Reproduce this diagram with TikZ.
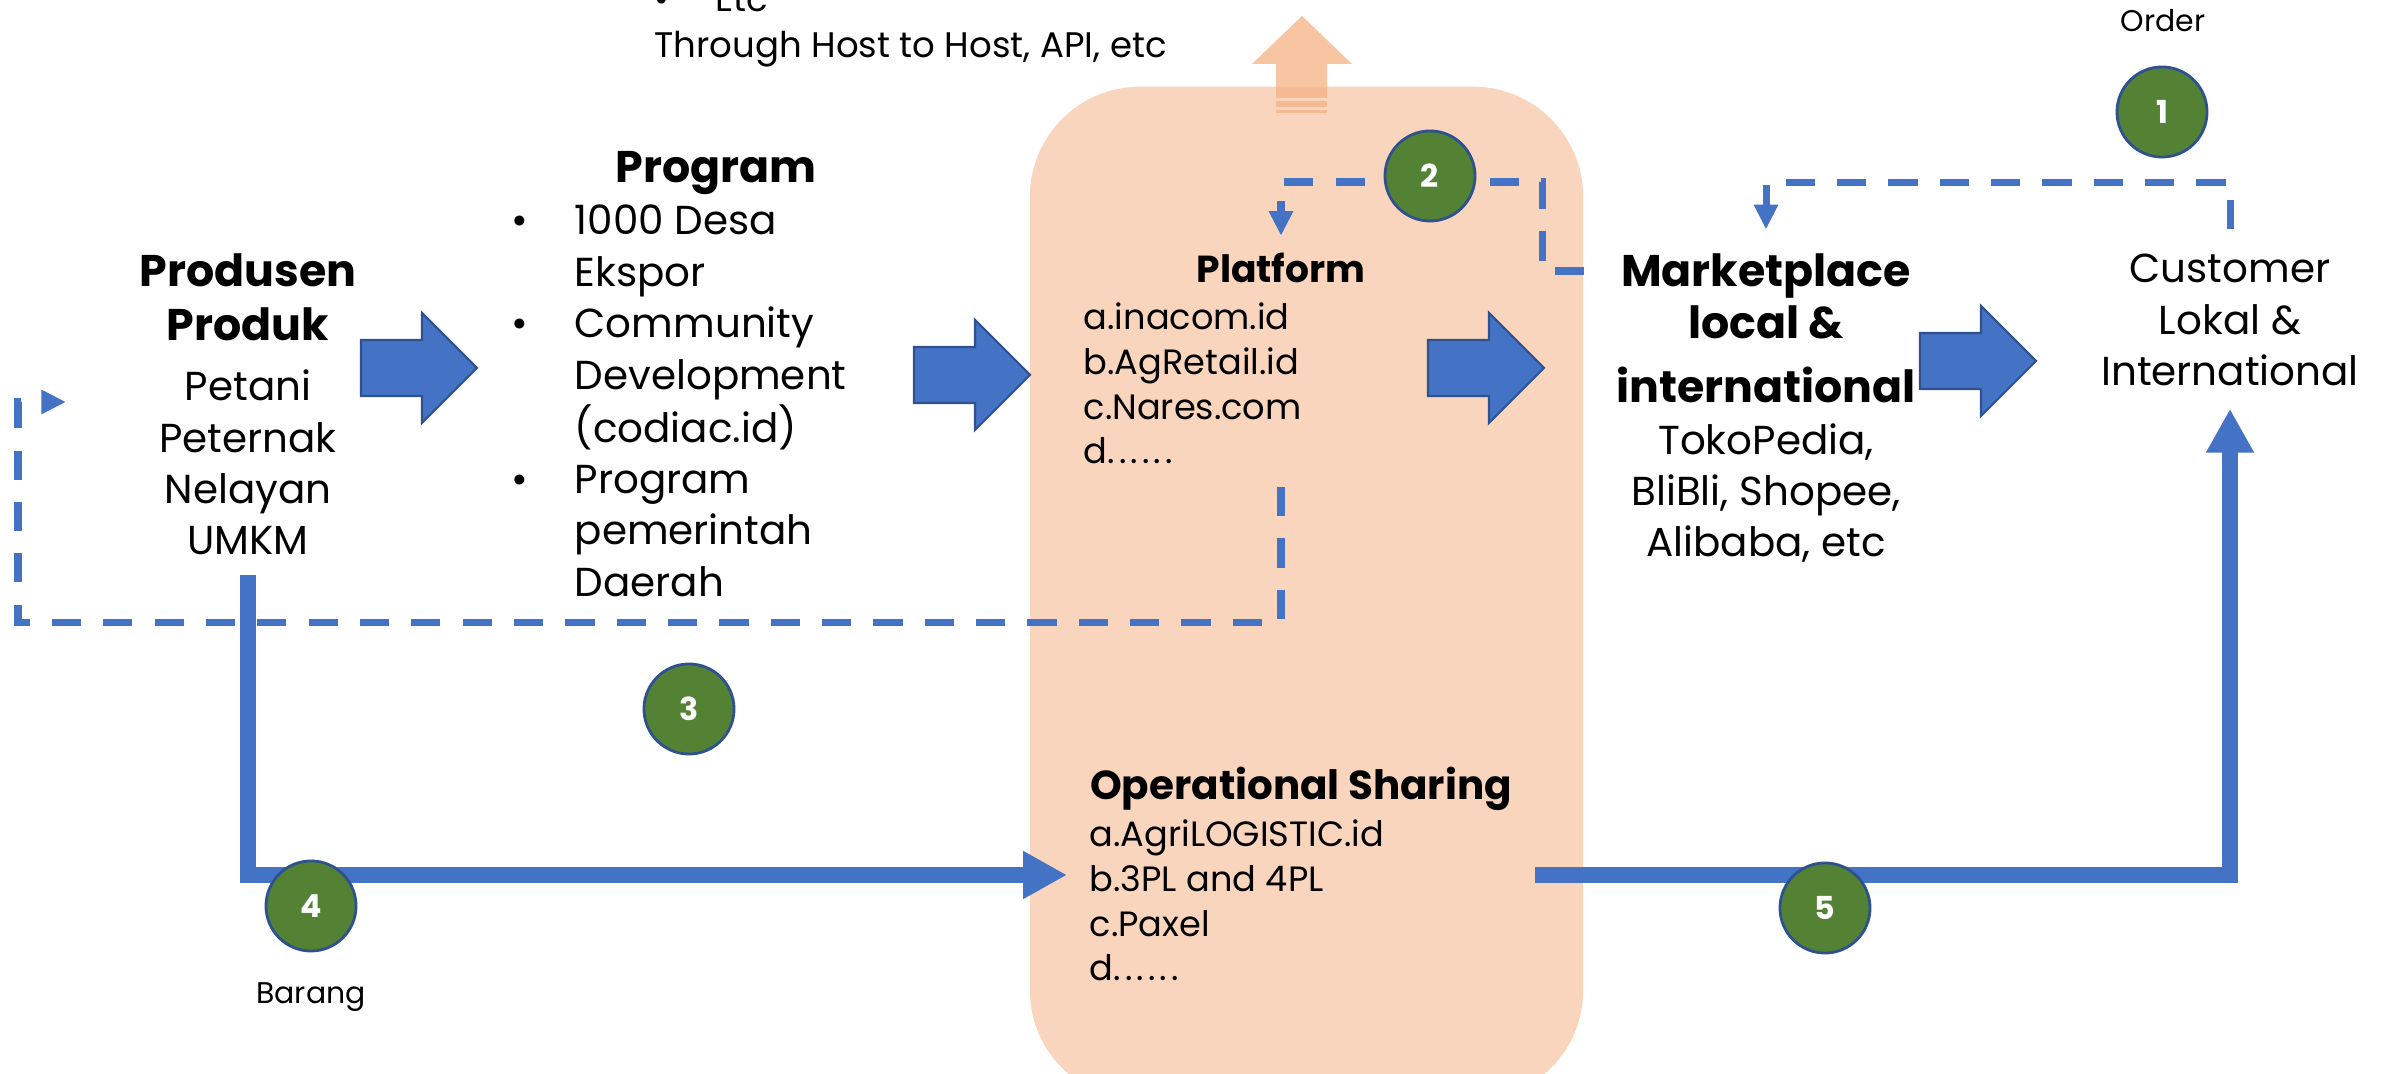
\documentclass[tikz,border=0pt]{standalone}
\usepackage{fontspec}
\setmainfont{Poppins}
\usetikzlibrary{arrows.meta,calc,positioning}

\definecolor{flowblue}{HTML}{4472C4}
\definecolor{edgeblue}{HTML}{2F528F}
\definecolor{stepgreen}{HTML}{548235}
\definecolor{peach}{HTML}{F9D5BE}
\definecolor{peachdark}{HTML}{F4B183}

\newcommand{\bigfont}{\fontsize{11.5}{14.6}\selectfont}
\newcommand{\listfont}{\fontsize{10}{12.7}\selectfont}
\newcommand{\headfont}{\fontsize{12.6}{14.6}\selectfont\bfseries}
\newcommand{\moredots}{.\kern1.2pt.\kern1.2pt.\kern1.2pt.\kern1.2pt.\kern1.2pt.}

\begin{document}
\begin{tikzpicture}[x=0.01cm, y=-0.01cm, >=Latex,
    txt/.style={inner sep=0pt, anchor=base, font=\bigfont},
    listtxt/.style={inner sep=0pt, anchor=base west, font=\listfont},
    smalltxt/.style={inner sep=0pt, font=\fontsize{8.5}{10}\selectfont},
    numdot/.style={circle, draw=edgeblue, line width=0.8pt, fill=stepgreen, text=white, font=\fontsize{9}{10}\selectfont\bfseries, minimum size=0.9cm, inner sep=0pt},
    platbox/.style={fill=peach, rounded corners=1.1cm, minimum width=5.53cm, minimum height=10.13cm, inner sep=0pt},
    blockarrow/.style={fill=flowblue, draw=edgeblue, line width=0.6pt},
    dashline/.style={draw=flowblue, line width=2pt, dash pattern=on 8.3pt off 6.3pt, -{Triangle[length=7pt,width=6.5pt]}},
    goodsline/.style={draw=flowblue, line width=4.3pt, line join=miter, -{Triangle[length=12.5pt,width=12.8pt]}}]
    \useasboundingbox (0,0) rectangle (2390,1074);

    % Platform background and the peach up arrow
    \node[platbox] (platbox) at (1306.5,593.5) {};
    \fill[peachdark, opacity=0.75] (1276,98) -- (1276,64) -- (1252,64) -- (1302,16) -- (1352,64) -- (1327,64) -- (1327,98) -- cycle;
    \fill[peachdark, opacity=0.75] (1276,101) rectangle (1327,107);
    \fill[peachdark, opacity=0.75] (1276,110) rectangle (1327,113);

    % Text blocks
    \node[listtxt, font=\fontsize{10.1}{13}\selectfont] (hostnote) at (654,12) {\begin{tabular}[t]{@{}p{0.61cm}@{}l@{}}\textbullet & Etc\\ \multicolumn{2}{@{}l@{}}{Through Host to Host, API, etc}\end{tabular}};
    \node[txt] (produsen) at (248,287) {\begin{tabular}[t]{@{}c@{}}{\headfont Produsen}\\[0.6pt] {\headfont Produk}\\[2.6pt] Petani\\ Peternak\\ Nelayan\\ UMKM\end{tabular}};
    \node[txt, font=\headfont] (program) at (716,183) {Program};
    \node[txt, anchor=base west] (programlist) at (511,235) {\begin{tabular}[t]{@{}p{0.63cm}@{}l@{}}\textbullet & 1000 Desa\\ & Ekspor\\ \textbullet & Community\\ & Development\\ & (codiac.id)\\ \textbullet & Program\\ & pemerintah\\ & Daerah\end{tabular}};
    \node[txt, font=\fontsize{10.7}{13}\selectfont\bfseries] (platform) at (1281,283) {Platform};
    \node[listtxt] (platformlist) at (1083,330) {\begin{tabular}[t]{@{}l@{}}a.inacom.id\\ b.AgRetail.id\\ c.Nares.com\\ d\moredots\end{tabular}};
    \node[txt, font=\bigfont\bfseries] (ops) at (1301,800) {Operational Sharing};
    \node[listtxt] (opslist) at (1089,847) {\begin{tabular}[t]{@{}l@{}}a.AgriLOGISTIC.id\\ b.3PL and 4PL\\ c.Paxel\\ d\moredots\end{tabular}};
    \node[txt] (market) at (1766,287) {\begin{tabular}[t]{@{}c@{}}{\headfont Marketplace}\\ {\headfont local \&}\\[3.7pt] {\headfont international}\\ TokoPedia,\\ BliBli, Shopee,\\ Alibaba, etc\end{tabular}};
    \node[txt] (customer) at (2230,283) {\begin{tabular}[t]{@{}c@{}}Customer\\ Lokal \&\\ International\end{tabular}};
    \node[smalltxt, anchor=base] (order) at (2163,32) {Order};

    % Block arrows between the stages
    \foreach \ax/\ay in {361/368, 914/375, 1428/368, 1920/361}
        \draw[blockarrow] (\ax,\ay-28) -- ++(61,0) -- ++(0,-27) -- ++(55,55) -- ++(-55,55) -- ++(0,-27) -- ++(-61,0) -- cycle;

    % Dashed information flows
    \coordinate (backin) at (66,402);
    \draw[dashline] ($(customer.north)+(0,-17)$) -- ++(0,-47) -| ($(market.north)+(0,-21)$);
    \draw[dashline] ($(platbox.north east)+(0,185)$) -- ++(-41,0) -- ++(0,-89) -| ($(platform.north)+(0,-17)$);
    \draw[dashline] ($(platform.south |- platformlist.south)+(0,9)$) -- ++(0,135) -| ($(backin)+(-48,0)$) -- (backin);

    % Goods flow
    \coordinate (goodsin) at (1067,875);
    \coordinate (goodsout) at (1535,875);
    \draw[goodsline] ($(produsen.south)+(0,4)$) |- (goodsin);
    \draw[goodsline] (goodsout) -| ($(customer.south)+(0,7)$);

    % Step numbers
    \node[numdot] (n1) at (2162,112) {1};
    \node[numdot] (n2) at (1430,176) {2};
    \node[numdot] (n3) at (689,709) {3};
    \node[numdot] (n4) at (311,906) {4};
    \node[numdot] (n5) at (1825,908) {5};
    \node[smalltxt, below=0.3cm of n4] (barang) {Barang};
\end{tikzpicture}
\end{document}
